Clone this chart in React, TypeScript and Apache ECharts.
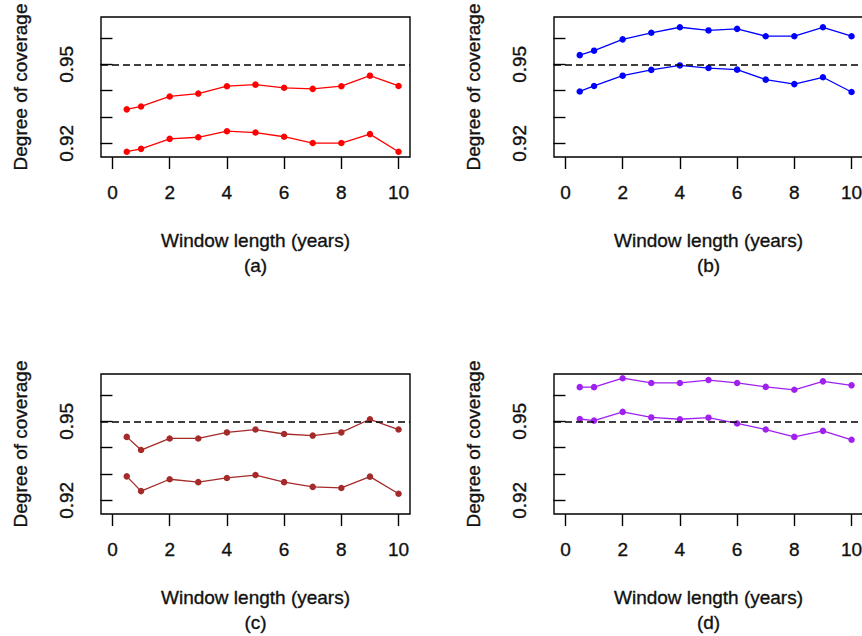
import React, { useEffect, useRef } from "react";
import * as echarts from "echarts";

const windowLengths = [0.5, 1, 2, 3, 4, 5, 6, 7, 8, 9, 10];

const aUpper = [0.9329, 0.934, 0.9378, 0.9389, 0.9417, 0.9423, 0.9411, 0.9407, 0.9417, 0.9457, 0.9418];
const aLower = [0.9168, 0.9179, 0.9217, 0.9223, 0.9246, 0.9241, 0.9225, 0.9201, 0.9201, 0.9235, 0.9168];
const bUpper = [0.9535, 0.9552, 0.9595, 0.962, 0.9641, 0.9629, 0.9635, 0.9607, 0.9607, 0.9641, 0.9607];
const bLower = [0.9397, 0.9418, 0.9457, 0.9479, 0.9496, 0.9486, 0.948, 0.9442, 0.9425, 0.9451, 0.9395];
const cUpper = [0.9441, 0.9391, 0.9435, 0.9435, 0.9458, 0.9469, 0.9452, 0.9446, 0.9458, 0.9508, 0.9469];
const cLower = [0.9291, 0.9235, 0.928, 0.9269, 0.9285, 0.9296, 0.9269, 0.9251, 0.9247, 0.929, 0.9225];
const dUpper = [0.963, 0.963, 0.9664, 0.9646, 0.9646, 0.9657, 0.9646, 0.9631, 0.962, 0.9652, 0.9637];
const dLower = [0.9509, 0.9503, 0.9536, 0.9515, 0.9508, 0.9514, 0.9492, 0.9469, 0.9441, 0.9464, 0.943];

const xTicks = [0, 2, 4, 6, 8, 10];
const yTicks = [0.92, 0.93, 0.94, 0.95, 0.96];
const yTickLabels = [0.92, 0.95];
const nominal = 0.95;

const panels = [
  { tag: "(a)", color: "#FF0000", upper: aUpper, lower: aLower, left: 101, top: 17 },
  { tag: "(b)", color: "#0000FF", upper: bUpper, lower: bLower, left: 554, top: 17 },
  { tag: "(c)", color: "#A52A2A", upper: cUpper, lower: cLower, left: 101, top: 374 },
  { tag: "(d)", color: "#A020F0", upper: dUpper, lower: dLower, left: 554, top: 374 },
];

const FONT = "'Liberation Sans', Arial, sans-serif";
const textBase = {
  fontSize: 19,
  fontFamily: FONT,
  color: "#111",
  textBorderColor: "#111",
  textBorderWidth: 0.35,
};

export default function App() {
  const ref = useRef<HTMLDivElement>(null);
  useEffect(() => {
    if (!ref.current) return;
    const chart = echarts.init(ref.current, null, { renderer: "svg" });
    const grid: any[] = [];
    const xAxis: any[] = [];
    const yAxis: any[] = [];
    const series: any[] = [];
    panels.forEach((p, i) => {
      grid.push({
        left: p.left,
        top: p.top,
        width: 309,
        height: 140,
        show: true,
        borderColor: "#000",
        borderWidth: 1.4,
        backgroundColor: "transparent",
      });
      xAxis.push({
        type: "value",
        gridIndex: i,
        min: -0.4,
        max: 10.4,
        axisLine: { show: false },
        splitLine: { show: false },
        axisTick: { show: true, length: 12, inside: false, customValues: xTicks, lineStyle: { color: "#000", width: 1.4 } },
        axisLabel: {
          ...textBase,
          customValues: xTicks,
          margin: 26,
          showMinLabel: true,
          showMaxLabel: true,
        },
        name: "Window length (years)\n" + p.tag,
        nameLocation: "middle",
        nameGap: 71,
        nameTextStyle: { ...textBase, lineHeight: 25 },
      });
      yAxis.push({
        type: "value",
        gridIndex: i,
        min: 0.9148,
        max: 0.968,
        axisLine: { show: false },
        splitLine: { show: false },
        axisTick: { show: true, length: 12, inside: false, customValues: yTicks, lineStyle: { color: "#000", width: 1.4 } },
        axisLabel: {
          ...textBase,
          customValues: yTickLabels,
          rotate: 90,
          margin: 25,
          formatter: (v: number) => v.toFixed(2),
        },
        name: "Degree of coverage",
        nameLocation: "middle",
        nameGap: 71,
        nameTextStyle: { ...textBase },
      });
      const mk = (vals: number[], withLine: boolean) => ({
        type: "line",
        xAxisIndex: i,
        yAxisIndex: i,
        data: windowLengths.map((x, k) => [x, vals[k]]),
        symbol: "circle",
        symbolSize: 6.5,
        showSymbol: true,
        lineStyle: { color: p.color, width: 1.3 },
        itemStyle: { color: p.color },
        z: 2,
        markLine: withLine
          ? {
              silent: true,
              symbol: "none",
              label: { show: false },
              lineStyle: { color: "#000", type: [7, 4], width: 1.5 },
              data: [{ yAxis: nominal }],
              z: 5,
            }
          : undefined,
      });
      series.push(mk(p.upper, true));
      series.push(mk(p.lower, false));
    });
    chart.setOption({
      animation: false,
      backgroundColor: "#fff",
      grid,
      xAxis,
      yAxis,
      series,
    });
    return () => chart.dispose();
  }, []);
  return (
    <div
      style={{
        position: "absolute",
        left: 0,
        top: 0,
        width: 862,
        height: 636,
        overflow: "hidden",
        background: "#fff",
      }}
    >
      <div ref={ref} style={{ width: 880, height: 636 }} />
    </div>
  );
}
